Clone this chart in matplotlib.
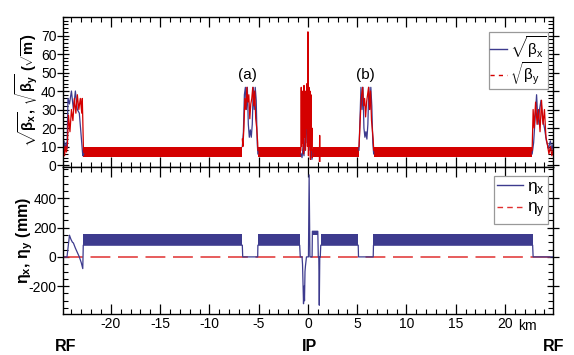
import matplotlib
matplotlib.use("Agg")
import matplotlib.pyplot as plt
from matplotlib.ticker import MultipleLocator

plt.rcParams['font.family'] = ['Liberation Sans', 'DejaVu Sans']
plt.rcParams['mathtext.fontset'] = 'custom'
plt.rcParams['mathtext.rm'] = 'Liberation Sans'
plt.rcParams['mathtext.it'] = 'Liberation Sans'
plt.rcParams['mathtext.bf'] = 'Liberation Sans:bold'
plt.rcParams['axes.unicode_minus'] = False

BLUE = '#3d3b8e'
RED = '#d40000'

# ---------------- data (km, sqrt(m), mm) ----------------
# arc sections: (start, end) in km
arc_segments = [(-22.78, -6.66), (-5.08, -0.70), (0.50, 5.18), (6.67, 22.78)]
beta_arc_lo = 4.2
beta_arc_hi = 10.0

# RF left
rfL_x_bx = [-24.9, -24.85, -24.75, -24.65, -24.55, -24.45, -24.35, -24.2, -24.0, -23.8, -23.6, -23.4, -23.2, -23.0, -22.85, -22.75]
rfL_bx = [13, 8, 13, 8, 12, 9, 36, 33, 40, 30, 40, 30, 28, 15, 5, 6]
rfL_x_by = [-24.9, -24.8, -24.7, -24.6, -24.5, -24.4, -24.3, -24.15, -24.0, -23.85, -23.7, -23.55, -23.4, -23.25, -23.1, -22.95, -22.9, -22.85, -22.78]
rfL_by = [6, 11, 5, 10, 7, 12, 27, 18, 30, 24, 36, 28, 38, 30, 36, 28, 36, 25, 8]

# straight (a)
sa_x_bx = [-6.66, -6.55, -6.45, -6.35, -6.25, -6.15, -6.05, -5.95, -5.85, -5.75, -5.65, -5.55, -5.45, -5.35, -5.25, -5.15, -5.08]
sa_bx = [10, 18, 38, 42, 30, 42, 22, 15, 19, 15, 22, 42, 30, 42, 35, 12, 6]
sa_x_by = [-6.66, -6.6, -6.5, -6.4, -6.3, -6.2, -6.1, -6.0, -5.9, -5.8, -5.7, -5.6, -5.5, -5.4, -5.3, -5.2, -5.1, -5.08]
sa_by = [14, 10, 20, 36, 30, 42, 34, 38, 25, 33, 36, 42, 32, 40, 25, 20, 12, 8]

# interaction region
ir_x_by = [-0.72, -0.68, -0.64, -0.6, -0.55, -0.5, -0.45, -0.4, -0.35, -0.3, -0.25, -0.2, -0.15, -0.1, -0.05, 0.0, 0.05, 0.1, 0.15, 0.2, 0.25, 0.3, 0.35, 0.4, 0.45, 0.5]
ir_by = [8, 42, 10, 40, 12, 36, 6, 43, 15, 38, 8, 40, 20, 44, 10, 72, 5, 42, 10, 40, 3, 38, 8, 20, 4, 8]
ir_x_bx = [-0.7, -0.6, -0.5, -0.4, -0.3, -0.25, -0.2, -0.1, -0.05, 0.0, 0.05, 0.1, 0.2, 0.3, 0.4, 0.5]
ir_bx = [6, 4, 10, 5, 15, 30, 12, 25, 18, 31, 20, 22, 8, 12, 3, 6]
spike_x_by = [1.16, 1.19, 1.22]
spike_by = [2, 16, 2]

# straight (b)
sb_x_bx = [5.18, 5.28, 5.38, 5.48, 5.58, 5.68, 5.78, 5.88, 5.98, 6.08, 6.18, 6.28, 6.38, 6.48, 6.58, 6.67]
sb_bx = [8, 25, 42, 30, 42, 20, 15, 18, 14, 22, 42, 30, 42, 32, 12, 6]
sb_x_by = [5.18, 5.25, 5.35, 5.45, 5.55, 5.65, 5.75, 5.85, 5.95, 6.05, 6.15, 6.25, 6.35, 6.45, 6.55, 6.62, 6.67]
sb_by = [10, 18, 30, 38, 42, 32, 36, 26, 34, 38, 42, 30, 40, 24, 18, 14, 8]

# RF right
rfR_x_bx = [22.75, 22.9, 23.05, 23.2, 23.35, 23.5, 23.65, 23.8, 24.0, 24.2, 24.4, 24.6, 24.75, 24.9]
rfR_bx = [6, 12, 25, 38, 22, 30, 35, 25, 20, 13, 9, 13, 8, 12]
rfR_x_by = [22.75, 22.85, 22.95, 23.1, 23.25, 23.4, 23.55, 23.7, 23.85, 24.0, 24.15, 24.3, 24.45, 24.6, 24.75, 24.9]
rfR_by = [8, 30, 20, 34, 22, 30, 18, 35, 22, 30, 15, 11, 6, 10, 5, 9]

# dispersion
eta_arc_segments = [(-22.8, -6.66), (-5.08, -0.84), (1.30, 5.10), (6.65, 22.8)]
eta_arc_lo = 80
eta_arc_hi = 157
eta_box = (0.45, 1.0)
eta_box_lo = 150
eta_box_hi = 175
eta_x = [-24.9, -24.45, -24.2, -24.05, -23.9, -23.8, -23.6, -23.4, -23.2, -23.0, -22.85, -22.8,
         -6.66, -6.62, -5.1, -5.08,
         -0.84, -0.78, -0.6, -0.55, -0.45, -0.4, -0.35, -0.3, -0.25, -0.15, 0.05, 0.12, 0.2, 0.42, 0.45,
         1.0, 1.05, 1.1, 1.15, 1.2, 1.25, 1.3,
         5.1, 5.13, 6.62, 6.65, 22.8, 22.85, 24.9]
eta_v = [0, 0, 148, 120, 100, 95, 60, 30, 0, -40, -80, 80,
         80, 0, 0, 80,
         80, 0, 0, -50, -320, -200, -300, -100, -60, 0, 0, 560, 0, 0, 175,
         175, 0, 0, -330, 0, 0, 80,
         80, 0, 0, 80, 80, 0, 0]
eta_y_x = [-24.9, 24.9]
eta_y_v = [0, 0]

# ---------------- figure ----------------
fig = plt.figure(figsize=(5.74, 3.55), dpi=100)
ax1 = fig.add_axes([0.109, 0.530, 0.855, 0.422])
ax2 = fig.add_axes([0.109, 0.1155, 0.855, 0.4145])

lw = 0.9
# top panel
for (a, b) in arc_segments:
    ax1.fill_between([a, b], [beta_arc_lo] * 2, [beta_arc_hi] * 2, color=BLUE, lw=0)
for xs, ys in [(rfL_x_bx, rfL_bx), (sa_x_bx, sa_bx), (ir_x_bx, ir_bx), (sb_x_bx, sb_bx), (rfR_x_bx, rfR_bx)]:
    ax1.plot(xs, ys, color=BLUE, lw=lw)
for (a, b) in arc_segments:
    ax1.fill_between([a, b], [beta_arc_lo] * 2, [beta_arc_hi] * 2, color=RED, lw=0)
for xs, ys in [(rfL_x_by, rfL_by), (sa_x_by, sa_by), (ir_x_by, ir_by), (spike_x_by, spike_by), (sb_x_by, sb_by), (rfR_x_by, rfR_by)]:
    ax1.plot(xs, ys, color=RED, lw=lw)

h1, = ax1.plot([], [], color=BLUE, lw=1.0, label=r'$\sqrt{β_x}$')
h2, = ax1.plot([], [], color=RED, lw=1.0, ls=(0, (3, 3)), label=r'$\sqrt{β_y}$')
leg1 = ax1.legend(handles=[h1, h2], loc='upper right', bbox_to_anchor=(0.989, 0.90), borderaxespad=0,
                  fontsize=11, fancybox=False, edgecolor='#999999', handlelength=1.1, handletextpad=0.2,
                  borderpad=0.1, labelspacing=0.05, framealpha=1)
leg1.get_frame().set_linewidth(0.9)

ax1.text(-6.1, 48.5, '(a)', ha='center', va='center', fontsize=11)
ax1.text(5.8, 48.5, '(b)', ha='center', va='center', fontsize=11)

ax1.set_xlim(-24.9, 24.9)
ax1.set_ylim(-1, 80)
ax1.set_yticks([0, 10, 20, 30, 40, 50, 60, 70])
ax1.yaxis.set_minor_locator(MultipleLocator(2))
ax1.set_ylabel(r'$\mathbf{\sqrt{β_x},\,\sqrt{β_y}\ (\sqrt{m})}$', fontsize=10.5)
ax1.yaxis.label.set_va('center')
ax1.yaxis.set_label_coords(-0.074, 0.513)

# bottom panel
for (a, b) in eta_arc_segments:
    ax2.fill_between([a, b], [eta_arc_lo] * 2, [eta_arc_hi] * 2, color=BLUE, lw=0)
ax2.fill_between(list(eta_box), [eta_box_lo] * 2, [eta_box_hi] * 2, color=BLUE, lw=0)
ax2.plot(eta_y_x, eta_y_v, color='#e03030', lw=1.1, ls=(0, (13, 5)))
ax2.plot(eta_x, eta_v, color=BLUE, lw=lw)

g1, = ax2.plot([], [], color=BLUE, lw=1.0, label=r'$η_x$')
g2, = ax2.plot([], [], color='#e03030', lw=1.0, ls=(0, (4, 3)), label=r'$η_y$')
leg2 = ax2.legend(handles=[g1, g2], loc='upper right', bbox_to_anchor=(0.989, 0.94), borderaxespad=0,
                  fontsize=12.5, fancybox=False, edgecolor='#999999', handlelength=1.5, handletextpad=0.2,
                  borderpad=0.2, labelspacing=0.25, framealpha=1)
leg2.get_frame().set_linewidth(0.9)

ax2.set_xlim(-24.9, 24.9)
ax2.set_ylim(-390, 615)
ax2.set_yticks([-200, 0, 200, 400])
ax2.yaxis.set_minor_locator(MultipleLocator(50))
ax2.set_ylabel(r'$\mathbf{η_x,\,η_y\ (mm)}$', fontsize=11.5)
ax2.yaxis.label.set_va('center')
ax2.yaxis.set_label_coords(-0.077, 0.503)

xt = [-20, -15, -10, -5, 0, 5, 10, 15, 20]
for ax in (ax1, ax2):
    ax.set_xticks(xt)
    ax.xaxis.set_minor_locator(MultipleLocator(1))
    ax.tick_params(axis='x', which='both', direction='in', top=True, bottom=True)
    ax.tick_params(axis='x', which='major', length=7, width=0.9, pad=2)
    ax.tick_params(axis='x', which='minor', length=3.5, width=0.8)
    ax.tick_params(axis='y', which='both', left=True, right=True)
    ax.tick_params(axis='y', which='major', direction='inout', length=8, width=0.9, pad=0.3)
    ax.tick_params(axis='y', which='minor', direction='in', length=3.5, width=0.8)
    ax.tick_params(labelsize=10)
    for s in ax.spines.values():
        s.set_linewidth(1.0)
ax1.tick_params(axis='x', labelbottom=False)
ax2.set_xticklabels([str(v) for v in xt])

ax2.text(22.3, -0.036, 'km', transform=ax2.get_xaxis_transform(), ha='center', va='top', fontsize=10)
ax2.text(-24.6, -0.17, 'RF', transform=ax2.get_xaxis_transform(), ha='center', va='top', fontsize=11.5, fontweight='bold')
ax2.text(0.15, -0.17, 'IP', transform=ax2.get_xaxis_transform(), ha='center', va='top', fontsize=11.5, fontweight='bold')
ax2.text(24.9, -0.17, 'RF', transform=ax2.get_xaxis_transform(), ha='center', va='top', fontsize=11.5, fontweight='bold')

fig.savefig('out.png', dpi=100)
